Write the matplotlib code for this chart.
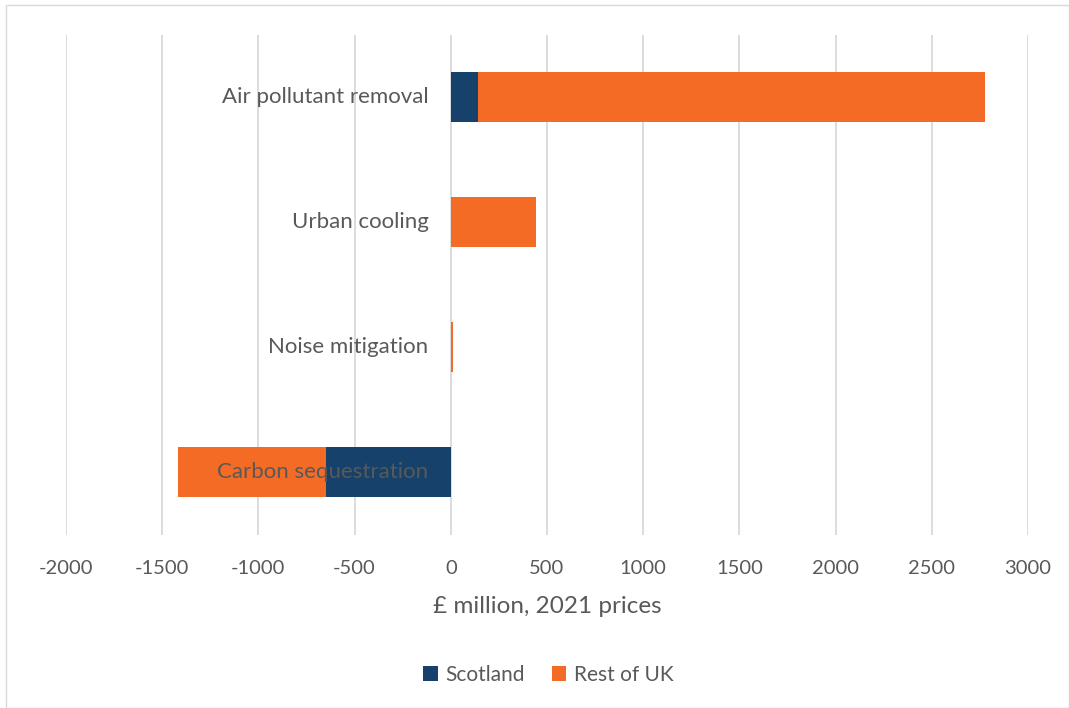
import numpy as np
import matplotlib.pyplot as plt
from matplotlib.patches import Rectangle

plt.rcParams['font.family'] = ['Lato', 'DejaVu Sans']

categories = ["Carbon sequestration", "Noise mitigation", "Urban cooling", "Air pollutant removal"]
scotland = [-650, 0, 0, 141]
rest_of_uk = [-766, 12, 444, 2636]
xticks = [-2000, -1500, -1000, -500, 0, 500, 1000, 1500, 2000, 2500, 3000]

NAVY = "#15416a"
ORANGE = "#f46b25"
GREY = "#595959"

fig = plt.figure(figsize=(10.69, 7.08), dpi=100)
fig.patches.append(Rectangle((0.006, 0.0), 0.994, 0.993, transform=fig.transFigure,
                             fill=False, edgecolor="#d9d9d9", linewidth=1))
ax = fig.add_axes([66 / 1069, 1 - 535 / 708, (1028 - 66) / 1069, 500 / 708])

y = np.arange(len(categories))
sc = np.array(scotland, dtype=float)
ru = np.array(rest_of_uk, dtype=float)
ax.barh(y, sc, height=0.4, color=NAVY, label="Scotland", zorder=2)
ax.barh(y, ru, left=sc, height=0.4, color=ORANGE, label="Rest of UK", zorder=2)

ax.set_xlim(-2000, 3000)
ax.set_ylim(-0.5, 3.5)
ax.set_xticks(xticks)
ax.set_xticklabels([str(t) for t in xticks], fontsize=14.5, color=GREY)
ax.tick_params(axis="x", length=0, pad=18)
ax.set_yticks([])
ax.grid(axis="x", color="#d9d9d9", linewidth=1.3, zorder=0)
for s in ax.spines.values():
    s.set_visible(False)

for yi, name in zip(y, categories):
    ax.annotate(name, xy=(0, yi), xytext=(-16, 0), textcoords="offset points",
                ha="right", va="center", fontsize=16, color=GREY, zorder=5)

ax.set_xlabel("£ million, 2021 prices", fontsize=17.5, color=GREY, labelpad=14)

fig.legend(loc="center", bbox_to_anchor=(0.513, 1 - 675 / 708), ncol=2, frameon=False,
           fontsize=15, labelcolor=GREY, handlelength=0.7, handleheight=0.7,
           columnspacing=1.3, handletextpad=0.35)

fig.savefig("out.png", dpi=100)
